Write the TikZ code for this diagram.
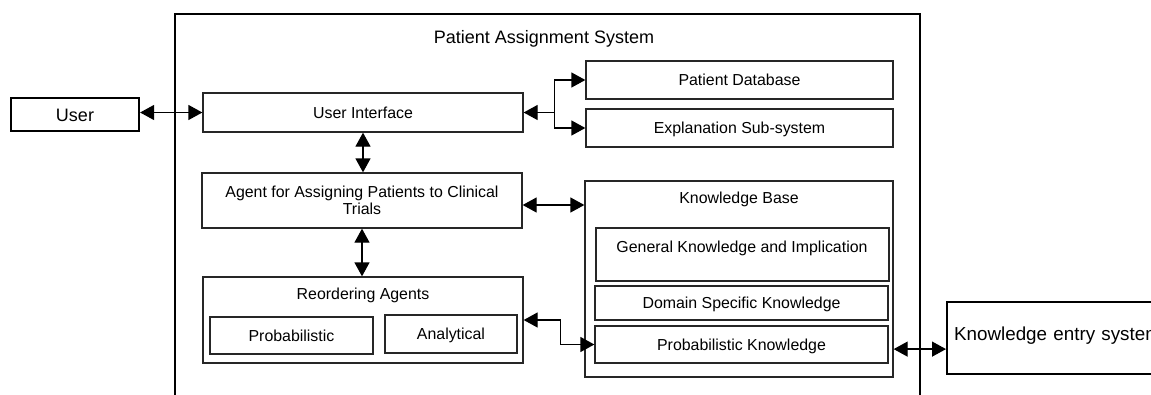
\documentclass[tikz,border=0pt]{standalone}
\usepackage{fontspec}
\setmainfont{Liberation Sans}
\usetikzlibrary{arrows.meta}

\begin{document}
\begin{tikzpicture}[x=1pt, y=1pt,
    >={Triangle[length=14pt, width=15pt]},
    box/.style={draw=black!85, line width=1.3pt, inner sep=0pt, font=\fontsize{15.9}{17.5}\selectfont},
    bigbox/.style={draw=black, line width=2.2pt, inner sep=0pt, font=\fontsize{18}{21}\selectfont},
    centred/.style={text height=11.9pt, text depth=0.5pt},
    boxtitle/.style={inner sep=0pt, centred, font=\fontsize{15.9}{17.5}\selectfont},
    link/.style={<->, line width=1.3pt}]
    \useasboundingbox (0,0) rectangle (1151,-394);
    \clip (0,0) rectangle (1151,-394);
    % system frame, open at the bottom
    \node[bigbox, line width=1.8pt, anchor=north west, minimum width=745pt, minimum height=420pt] (sys) at (174,-13) {};
    \node[boxtitle, font=\fontsize{18}{21}\selectfont, text height=13.5pt] (systitle) at (544,-37) {Patient Assignment System};
    % user side
    \node[bigbox, text height=13.5pt, text depth=0.5pt, minimum width=128pt, minimum height=33pt] (user) at (75,-114.5) {User};
    \node[box, centred, minimum width=320pt, minimum height=39pt] (ui) at (363,-112.5) {User Interface};
    \node[box, centred, minimum width=307pt, minimum height=38pt] (pdb) at (739.5,-80) {Patient Database};
    \node[box, centred, minimum width=307pt, minimum height=38pt] (expl) at (739.5,-128) {Explanation Sub-system};
    \node[box, align=center, minimum width=320pt, minimum height=55pt] (agent) at (362,-200.5) {Agent for Assigning Patients to Clinical\\Trials};
    % knowledge base
    \node[box, minimum width=308pt, minimum height=196pt] (kb) at (739,-279) {};
    \node[boxtitle] (kbtitle) at (739,-198) {Knowledge Base};
    \node[box, minimum width=293pt, minimum height=53pt] (gen) at (742.5,-254.5) {};
    \node[boxtitle] (gentitle) at (742,-247) {General Knowledge and Implication};
    \node[box, centred, minimum width=293pt, minimum height=34pt] (dsk) at (741.5,-303) {Domain Specific Knowledge};
    \node[box, centred, minimum width=293pt, minimum height=37pt] (pk) at (741.5,-344.5) {Probabilistic Knowledge};
    % reordering agents
    \node[box, minimum width=320pt, minimum height=86pt] (reo) at (363,-320) {};
    \node[boxtitle] (reotitle) at (363,-294) {Reordering Agents};
    \node[box, centred, minimum width=163pt, minimum height=37pt] (prob) at (291.5,-335.5) {Probabilistic};
    \node[box, centred, minimum width=132pt, minimum height=38pt] (anal) at (451,-334) {Analytical};
    % knowledge entry, outside the system
    \node[bigbox, font=\fontsize{18.8}{22}\selectfont, anchor=north west, minimum width=240pt, minimum height=72pt, text width=226pt, inner xsep=7pt, align=left, text height=13.5pt, text depth=8pt] (kes) at (946,-301) {Knowledge entry system};
    % connections
    \draw[link] (ui.west -| user.east) -- (ui.west);
    \draw[link] (ui.south) -- (ui.south |- agent.north);
    \draw[link] (agent.south) -- (agent.south |- reo.north);
    \draw[link] ([yshift=-4.5pt]agent.east) -- ([yshift=-4.5pt]agent.east -| kb.west);
    \draw[<-, line width=1.3pt] (ui.east) -- ++(31,0) coordinate (fork);
    \draw[->, line width=1.3pt] (fork) |- (pdb.west);
    \draw[->, line width=1.3pt] (fork) |- (expl.west);
    \draw[link] (reo.east) -- ++(37,0) |- (pk.west);
    \draw[link] ([yshift=-11pt]kes.west -| kb.east) -- ([yshift=-11pt]kes.west);
\end{tikzpicture}
\end{document}
